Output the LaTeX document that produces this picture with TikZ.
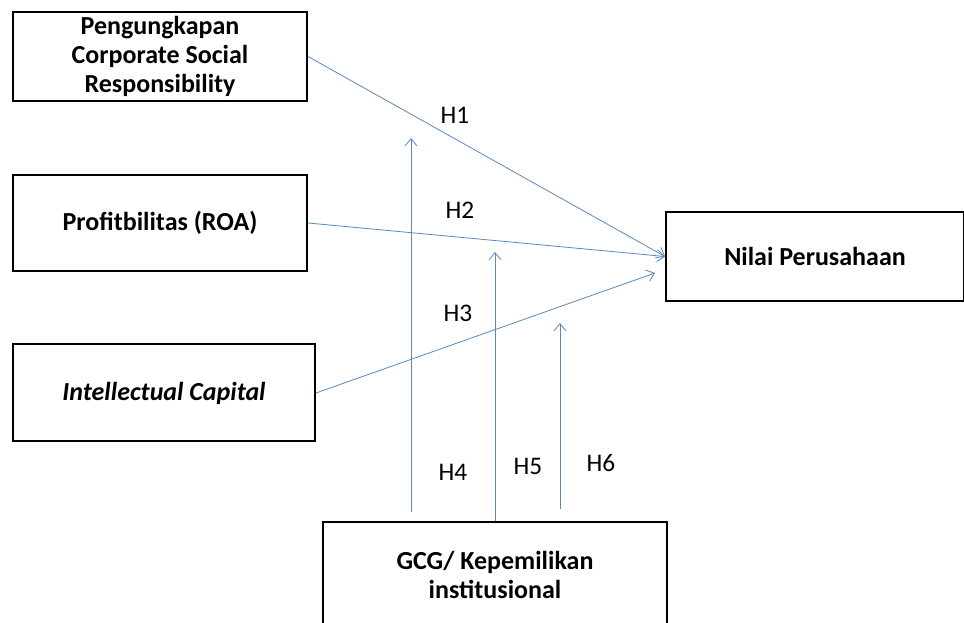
\documentclass[tikz,border=0pt]{standalone}
\usepackage{fontspec}
\setmainfont{Carlito}
\usetikzlibrary{arrows.meta}
\definecolor{linkblue}{RGB}{90,135,190}
\tikzstyle{var}=[draw, line width=1.5pt, align=center, inner sep=0pt, font=\fontsize{19.5}{21.5}\selectfont\bfseries]
\tikzstyle{link}=[->, draw=linkblue, line width=0.6pt]
\tikzstyle{hyp}=[font=\fontsize{19}{21}\selectfont]

\begin{document}
\begin{tikzpicture}[x=0.75pt,y=-0.75pt,>={Straight Barb[length=5.5pt,width=9pt]}]
    \useasboundingbox (0,0) rectangle (964,623);
    \node [var, minimum width=220.5pt, minimum height=66.75pt] (csr) at (160,56.5) {Pengungkapan\\Corporate Social\\Responsibility};
    \node [var, minimum width=220.5pt, minimum height=72pt] (roa) at (160,223) {Profitbilitas (ROA)};
    \node [var, minimum width=226.5pt, minimum height=72.75pt] (ic) at (164,393) {\textit{Intellectual Capital}};
    \node [var, minimum width=223.5pt, minimum height=66.75pt] (nilai) at (815,256.5) {Nilai Perusahaan};
    \node [var, minimum width=258pt, minimum height=79.5pt] (gcg) at (495,575) {GCG/ Kepemilikan\\institusional};
    \coordinate (h3tip) at (655,273);
    \coordinate (h4tip) at (411,138);
    \coordinate (h5tip) at (495,252);
    \coordinate (h6tip) at (560,323);
    \draw [link] (csr.east) -- (nilai.west);
    \draw [link] (roa.east) -- (nilai.west);
    \draw [link] (ic.east) -- (h3tip);
    \draw [link, shorten <=6.75pt] (gcg.north -| h4tip) -- (h4tip);
    \draw [link] (gcg.north) -- (h5tip);
    \draw [link, shorten <=9pt] (gcg.north -| h6tip) -- (h6tip);
    \node [hyp] (h1) at (455,115) {H1};
    \node [hyp] (h2) at (460,210) {H2};
    \node [hyp] (h3) at (458,313) {H3};
    \node [hyp] (h4) at (453,472) {H4};
    \node [hyp] (h5) at (528,466) {H5};
    \node [hyp] (h6) at (601,463) {H6};
\end{tikzpicture}
\end{document}
